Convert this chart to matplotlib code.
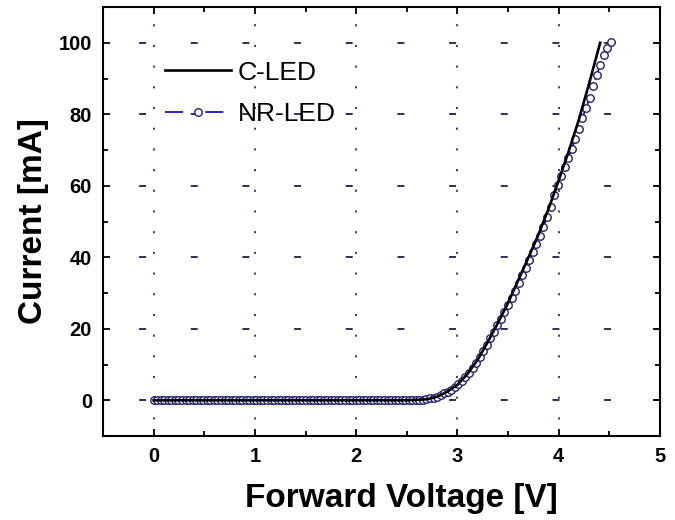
import numpy as np
import matplotlib.pyplot as plt
from matplotlib.ticker import MultipleLocator

plt.rcParams['lines.scale_dashes'] = False

# NR-LED: forward voltage [V] and current [mA], one entry per marker
v_nr = [0.000, 0.035, 0.070, 0.105, 0.140, 0.175, 0.210, 0.245, 0.280, 0.315,
        0.350, 0.385, 0.420, 0.455, 0.490, 0.525, 0.560, 0.595, 0.630, 0.665,
        0.700, 0.735, 0.770, 0.805, 0.840, 0.875, 0.910, 0.945, 0.980, 1.015,
        1.050, 1.085, 1.120, 1.155, 1.190, 1.225, 1.260, 1.295, 1.330, 1.365,
        1.400, 1.435, 1.470, 1.505, 1.540, 1.575, 1.610, 1.645, 1.680, 1.715,
        1.750, 1.785, 1.820, 1.855, 1.890, 1.925, 1.960, 1.995, 2.030, 2.065,
        2.100, 2.135, 2.170, 2.205, 2.240, 2.275, 2.310, 2.345, 2.380, 2.415,
        2.450, 2.485, 2.520, 2.555, 2.590, 2.625, 2.660, 2.695, 2.730, 2.765,
        2.800, 2.835, 2.870, 2.905, 2.940, 2.975, 3.010, 3.045, 3.080, 3.115,
        3.150, 3.185, 3.220, 3.255, 3.290, 3.325, 3.360, 3.395, 3.430, 3.465,
        3.500, 3.535, 3.570, 3.605, 3.640, 3.675, 3.710, 3.745, 3.780, 3.815,
        3.850, 3.885, 3.920, 3.955, 3.990, 4.025, 4.060, 4.095, 4.130, 4.165,
        4.200, 4.235, 4.270, 4.305, 4.340, 4.375, 4.410, 4.445, 4.480, 4.515]
i_nr = [0.0, 0.0, 0.0, 0.0, 0.0, 0.0, 0.0, 0.0, 0.0, 0.0,
        0.0, 0.0, 0.0, 0.0, 0.0, 0.0, 0.0, 0.0, 0.0, 0.0,
        0.0, 0.0, 0.0, 0.0, 0.0, 0.0, 0.0, 0.0, 0.0, 0.0,
        0.0, 0.0, 0.0, 0.0, 0.0, 0.0, 0.0, 0.0, 0.0, 0.0,
        0.0, 0.0, 0.0, 0.0, 0.0, 0.0, 0.0, 0.0, 0.0, 0.0,
        0.0, 0.0, 0.0, 0.0, 0.0, 0.0, 0.0, 0.0, 0.0, 0.0,
        0.0, 0.0, 0.0, 0.0, 0.0, 0.0, 0.0, 0.0, 0.0, 0.0,
        0.0, 0.0, 0.0, 0.0, 0.1, 0.1, 0.2, 0.3, 0.5, 0.7,
        1.0, 1.4, 1.9, 2.4, 2.9, 3.6, 4.5, 5.5, 6.6, 7.7,
        9.0, 10.4, 12.0, 13.8, 15.6, 17.4, 19.2, 21.0, 22.8, 24.6,
        26.6, 28.6, 30.6, 32.8, 35.0, 37.1, 39.3, 41.5, 43.7, 46.0,
        48.5, 51.3, 54.2, 57.3, 60.2, 62.8, 65.3, 67.9, 70.4, 73.0,
        76.0, 79.0, 81.7, 84.5, 87.8, 91.0, 93.8, 96.6, 98.6, 100.2]

# C-LED
v_c = [0.0, 0.5, 1.0, 1.5, 2.0, 2.5, 2.6, 2.7, 2.8, 2.9, 3.0, 3.1, 3.2,
       3.3, 3.4, 3.5, 3.6, 3.7, 3.8, 3.9, 4.0, 4.1, 4.2, 4.3, 4.41]
i_c = [0.0, 0.0, 0.0, 0.0, 0.0, 0.0, 0.1, 0.3, 1.0, 2.4, 4.3, 7.4, 11.3,
       16.3, 21.6, 27.2, 33.5, 39.8, 46.3, 53.5, 61.5, 69.7, 78.5, 88.5, 100.0]

xticks = [0, 1, 2, 3, 4, 5]
yticks = [0, 20, 40, 60, 80, 100]

font = ['Liberation Sans', 'DejaVu Sans']

fig = plt.figure(figsize=(6.75, 5.2), dpi=100)
ax = fig.add_axes([0.1526, 0.1615, 0.825, 0.825])

# sparse grid: dotted verticals, short dashes horizontally
grid_col = '#2e2e58'
for x in xticks[:-1]:
    ax.axvline(x, color=grid_col, lw=1.3, linestyle=(3.0, (1.5, 13.4)), zorder=0)
for y in yticks:
    ax.axhline(y, color=grid_col, lw=1.4, linestyle=(11.2, (5.0, 32.2)), zorder=0)

ax.plot(v_c, i_c, color='black', lw=1.9, label='C-LED', zorder=3)
ax.plot(v_nr, i_nr, color='#1515c8', lw=1.3, dashes=(13, 16),
        marker='o', ms=5.4, mfc='white', mec='#202070', mew=1.0,
        label='NR-LED', zorder=2)

ax.set_xlim(-0.5, 5)
ax.set_ylim(-10, 110)
ax.set_xticks(xticks)
ax.set_yticks(yticks)
ax.xaxis.set_minor_locator(MultipleLocator(0.5))
ax.yaxis.set_minor_locator(MultipleLocator(10))
ax.tick_params(which='both', direction='in', top=True, right=True, width=1.3)
ax.tick_params(which='major', length=5, pad=8)
ax.tick_params(which='minor', length=3.5)
for s in ax.spines.values():
    s.set_linewidth(1.5)

for lab in ax.get_xticklabels() + ax.get_yticklabels():
    lab.set_fontfamily(font)
    lab.set_fontweight('bold')
    lab.set_fontsize(14.5)

ax.set_xlabel('Forward Voltage [V]', fontsize=24, fontweight='bold',
              family=font)
ax.xaxis.set_label_coords(0.535, -0.11, transform=ax.transAxes)
ax.xaxis.label.set_va('top')
ax.set_ylabel('Current [mA]', fontsize=24, fontweight='bold',
              family=font, labelpad=7)

leg = ax.legend(loc='upper left', bbox_to_anchor=(0.111, 0.875), frameon=False,
                prop={'family': font, 'size': 19}, handlelength=2.5,
                handletextpad=0.25, labelspacing=0.65, borderaxespad=0,
                borderpad=0, numpoints=1)

fig.savefig('out.png', dpi=100)
